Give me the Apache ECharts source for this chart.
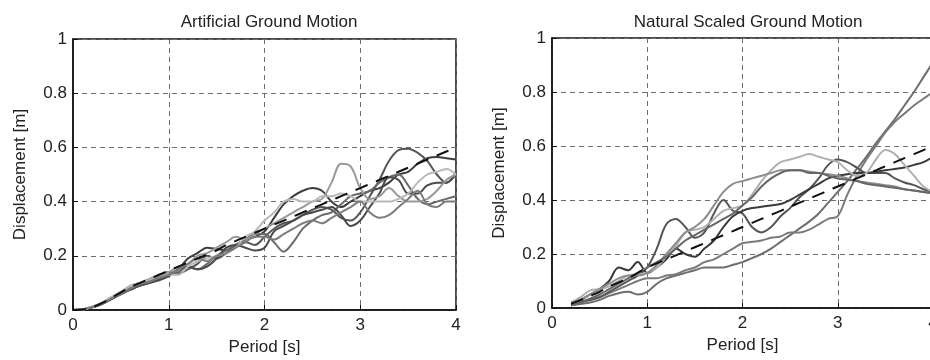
<!DOCTYPE html>
<html>
<head>
<meta charset="utf-8">
<script src="https://cdn.jsdelivr.net/npm/echarts@6/dist/echarts.min.js"></script>
<style>
  html, body { margin: 0; padding: 0; background: #fff; }
  #main { width: 930px; height: 360px; }
</style>
</head>
<body>
<div id="main"></div>
<script>
// period axis, shared by every curve (0 .. 4 s, step 0.1)
var periods = [0,0.1,0.2,0.3,0.4,0.5,0.6,0.7,0.8,0.9,1,1.1,1.2,1.3,1.4,1.5,1.6,1.7,1.8,1.9,2,
               2.1,2.2,2.3,2.4,2.5,2.6,2.7,2.8,2.9,3,3.1,3.2,3.3,3.4,3.5,3.6,3.7,3.8,3.9,4];
var xTicks = [0, 1, 2, 3, 4];
var yTicks = [0, 0.2, 0.4, 0.6, 0.8, 1];

// artificial ground motion
var artMean = [0,0.002,0.01,0.025,0.045,0.065,0.085,0.1,0.115,0.13,0.145,0.16,0.175,0.19,0.205,0.22,0.24,0.255,0.27,0.285,0.3,
               0.315,0.33,0.345,0.36,0.375,0.39,0.405,0.42,0.435,0.45,0.465,0.48,0.495,0.51,0.525,0.54,0.555,0.57,0.585,0.6];
var art1 = [0,0.002,0.01,0.022,0.04,0.06,0.08,0.095,0.11,0.12,0.13,0.15,0.19,0.21,0.23,0.225,0.22,0.24,0.26,0.27,0.29,
            0.34,0.39,0.42,0.44,0.45,0.44,0.4,0.38,0.4,0.42,0.44,0.45,0.47,0.5,0.51,0.54,0.56,0.565,0.56,0.555];
var art2 = [0,0.002,0.01,0.025,0.045,0.062,0.08,0.09,0.11,0.125,0.14,0.135,0.15,0.17,0.2,0.19,0.21,0.24,0.25,0.24,0.27,
            0.3,0.32,0.33,0.35,0.37,0.38,0.37,0.34,0.33,0.36,0.42,0.48,0.55,0.59,0.595,0.58,0.55,0.5,0.47,0.5];
var art3 = [0,0.002,0.01,0.024,0.042,0.06,0.075,0.09,0.1,0.115,0.13,0.14,0.16,0.15,0.17,0.2,0.22,0.24,0.26,0.28,0.28,
            0.25,0.215,0.25,0.3,0.33,0.35,0.36,0.39,0.42,0.43,0.44,0.47,0.49,0.5,0.46,0.41,0.39,0.4,0.41,0.42];
var art4 = [0,0.002,0.01,0.022,0.04,0.058,0.075,0.09,0.1,0.11,0.125,0.15,0.16,0.15,0.16,0.19,0.23,0.24,0.23,0.22,0.23,
            0.29,0.31,0.33,0.35,0.36,0.37,0.38,0.35,0.31,0.33,0.38,0.43,0.49,0.48,0.43,0.43,0.46,0.47,0.47,0.51];
var art5 = [0,0.002,0.012,0.026,0.045,0.065,0.09,0.1,0.115,0.13,0.14,0.16,0.17,0.2,0.21,0.23,0.25,0.27,0.26,0.28,0.3,
            0.32,0.34,0.36,0.38,0.4,0.41,0.47,0.54,0.53,0.45,0.41,0.42,0.45,0.42,0.4,0.4,0.41,0.44,0.48,0.5];
var art6 = [0,0.002,0.012,0.028,0.048,0.068,0.09,0.1,0.11,0.125,0.13,0.13,0.16,0.18,0.19,0.2,0.21,0.23,0.27,0.29,0.33,
            0.36,0.4,0.41,0.4,0.4,0.42,0.42,0.43,0.42,0.4,0.4,0.4,0.4,0.41,0.43,0.47,0.5,0.51,0.52,0.5];
var art7 = [0,0.002,0.011,0.024,0.043,0.06,0.08,0.095,0.105,0.12,0.13,0.15,0.17,0.19,0.18,0.2,0.21,0.23,0.25,0.27,0.27,
            0.26,0.28,0.3,0.32,0.33,0.32,0.34,0.36,0.38,0.4,0.36,0.34,0.35,0.38,0.41,0.44,0.39,0.38,0.4,0.4];

// natural scaled ground motion (records start at 0.2 s)
var natMean = [null,null,0.015,0.03,0.045,0.06,0.08,0.095,0.11,0.13,0.15,0.165,0.18,0.195,0.21,0.225,0.24,0.255,0.27,0.285,0.3,
               0.315,0.33,0.345,0.36,0.375,0.39,0.405,0.42,0.435,0.45,0.465,0.48,0.495,0.51,0.525,0.54,0.555,0.57,0.585,0.6];
var nat1 = [null,null,0.01,0.015,0.02,0.03,0.045,0.055,0.06,0.05,0.06,0.09,0.11,0.12,0.13,0.14,0.15,0.15,0.15,0.16,0.17,
            0.185,0.2,0.22,0.245,0.27,0.295,0.32,0.35,0.39,0.43,0.47,0.515,0.56,0.61,0.655,0.7,0.75,0.8,0.855,0.91];
var nat2 = [null,null,0.01,0.02,0.03,0.04,0.055,0.07,0.085,0.1,0.11,0.11,0.12,0.125,0.14,0.15,0.17,0.18,0.2,0.22,0.24,
            0.245,0.25,0.26,0.265,0.28,0.28,0.29,0.31,0.33,0.34,0.42,0.49,0.55,0.6,0.65,0.69,0.72,0.75,0.775,0.8];
var nat3 = [null,null,0.02,0.025,0.03,0.04,0.06,0.08,0.1,0.12,0.15,0.22,0.31,0.33,0.3,0.26,0.28,0.35,0.4,0.36,0.35,
            0.3,0.28,0.3,0.34,0.37,0.41,0.44,0.48,0.53,0.55,0.54,0.52,0.5,0.5,0.5,0.48,0.465,0.455,0.44,0.43];
var nat4 = [null,null,0.02,0.03,0.05,0.07,0.1,0.15,0.14,0.17,0.13,0.15,0.18,0.22,0.2,0.19,0.22,0.25,0.3,0.34,0.36,
            0.37,0.375,0.38,0.385,0.4,0.42,0.44,0.46,0.48,0.49,0.495,0.5,0.5,0.505,0.51,0.515,0.52,0.53,0.54,0.56];
var nat5 = [null,null,0.02,0.04,0.065,0.07,0.08,0.1,0.12,0.125,0.13,0.15,0.19,0.23,0.28,0.29,0.3,0.33,0.36,0.37,0.38,
            0.42,0.47,0.51,0.54,0.55,0.56,0.57,0.56,0.55,0.54,0.51,0.49,0.5,0.55,0.585,0.57,0.53,0.49,0.45,0.43];
var nat6 = [null,null,0.02,0.03,0.05,0.07,0.09,0.11,0.12,0.12,0.13,0.16,0.2,0.24,0.28,0.3,0.33,0.38,0.43,0.46,0.47,
            0.48,0.49,0.5,0.51,0.51,0.51,0.505,0.5,0.495,0.49,0.48,0.47,0.465,0.46,0.455,0.45,0.44,0.435,0.43,0.425];
var nat7 = [null,null,0.01,0.02,0.035,0.05,0.07,0.09,0.11,0.13,0.15,0.17,0.19,0.22,0.25,0.27,0.29,0.31,0.33,0.35,0.38,
            0.41,0.45,0.48,0.5,0.51,0.51,0.5,0.5,0.49,0.48,0.475,0.47,0.46,0.455,0.45,0.445,0.44,0.435,0.43,0.425];

var artRuns = [art1, art2, art3, art4, art5, art6, art7];
var natRuns = [nat1, nat2, nat3, nat4, nat5, nat6, nat7];
var runColors = ['#3d3d3d', '#555555', '#6a6a6a', '#4a4a4a', '#999999', '#b8b8b8', '#7c7c7c'];
var natColors = ['#6e6e6e', '#7a7a7a', '#555555', '#3a3a3a', '#b0b0b0', '#8c8c8c', '#666666'];

var font = "'Liberation Sans', Arial, sans-serif";

function pairs(ys) {
    var out = [];
    for (var i = 0; i < periods.length; i++) {
        out.push([periods[i], ys[i]]);
    }
    return out;
}

function xAxisFor(idx) {
    return {
        type: 'value', gridIndex: idx, min: 0, max: 4, interval: 1,
        name: 'Period [s]', nameLocation: 'middle', nameGap: 27,
        nameTextStyle: { fontFamily: font, fontSize: 17, color: '#222' },
        axisLine: { show: true, onZero: false, lineStyle: { color: '#111', width: 1.5 } },
        axisTick: { show: true, inside: true, length: 5, lineStyle: { color: '#111' } },
        axisLabel: { fontFamily: font, fontSize: 17, color: '#222', margin: 7, hideOverlap: false,
                     formatter: function (v) { return xTicks.indexOf(v) >= 0 ? String(v) : ''; } },
        splitLine: { show: true, lineStyle: { color: '#6f6f6f', type: [5, 4], width: 1 } }
    };
}

function yAxisFor(idx) {
    return {
        type: 'value', gridIndex: idx, min: 0, max: 1, interval: 0.2,
        name: 'Displacement [m]', nameLocation: 'middle', nameGap: 44, nameRotate: 90,
        nameTextStyle: { fontFamily: font, fontSize: 17, color: '#222' },
        axisLine: { show: true, lineStyle: { color: '#111', width: 1.5 } },
        axisTick: { show: true, inside: true, length: 5, lineStyle: { color: '#111' } },
        axisLabel: { fontFamily: font, fontSize: 17, color: '#222', margin: 6,
                     formatter: function (v) {
                         var t = Math.round(v * 10) / 10;
                         return yTicks.indexOf(t) >= 0 ? String(t) : '';
                     } },
        splitLine: { show: true, lineStyle: { color: '#6f6f6f', type: [5, 4], width: 1 } }
    };
}

var series = [];
artRuns.forEach(function (run, i) {
    series.push({ type: 'line', xAxisIndex: 0, yAxisIndex: 0, data: pairs(run),
                  showSymbol: false, smooth: 0.35, lineStyle: { color: runColors[i], width: 2 } });
});
series.push({ type: 'line', xAxisIndex: 0, yAxisIndex: 0, data: pairs(artMean), z: 5,
              showSymbol: false, smooth: 0.3, lineStyle: { color: '#111', width: 2, type: [13, 9] } });
natRuns.forEach(function (run, i) {
    series.push({ type: 'line', xAxisIndex: 1, yAxisIndex: 1, data: pairs(run),
                  showSymbol: false, smooth: 0.35, lineStyle: { color: natColors[i], width: 2 } });
});
series.push({ type: 'line', xAxisIndex: 1, yAxisIndex: 1, data: pairs(natMean), z: 5,
              showSymbol: false, smooth: 0.3, lineStyle: { color: '#111', width: 2, type: [13, 9] } });

var myChart = echarts.init(document.getElementById('main'));
var option = {
    animation: false,
    backgroundColor: '#fff',
    title: [
        { text: 'Artificial Ground Motion', left: 264, top: 9, textAlign: 'center',
          textStyle: { fontFamily: font, fontSize: 17, fontWeight: 'normal', color: '#222' } },
        { text: 'Natural Scaled Ground Motion', left: 743, top: 9, textAlign: 'center',
          textStyle: { fontFamily: font, fontSize: 17, fontWeight: 'normal', color: '#222' } }
    ],
    grid: [
        { left: 73, top: 39, width: 383, height: 271, show: true, borderColor: '#111', borderWidth: 1.5,
          outerBoundsMode: 'none' },
        { left: 552, top: 38, width: 381, height: 270, show: true, borderColor: '#111', borderWidth: 1.5,
          outerBoundsMode: 'none' }
    ],
    xAxis: [xAxisFor(0), xAxisFor(1)],
    yAxis: [yAxisFor(0), yAxisFor(1)],
    series: series
};

if (option && typeof option === "object") {
    myChart.setOption(option, true);
}
</script>
</body>
</html>
